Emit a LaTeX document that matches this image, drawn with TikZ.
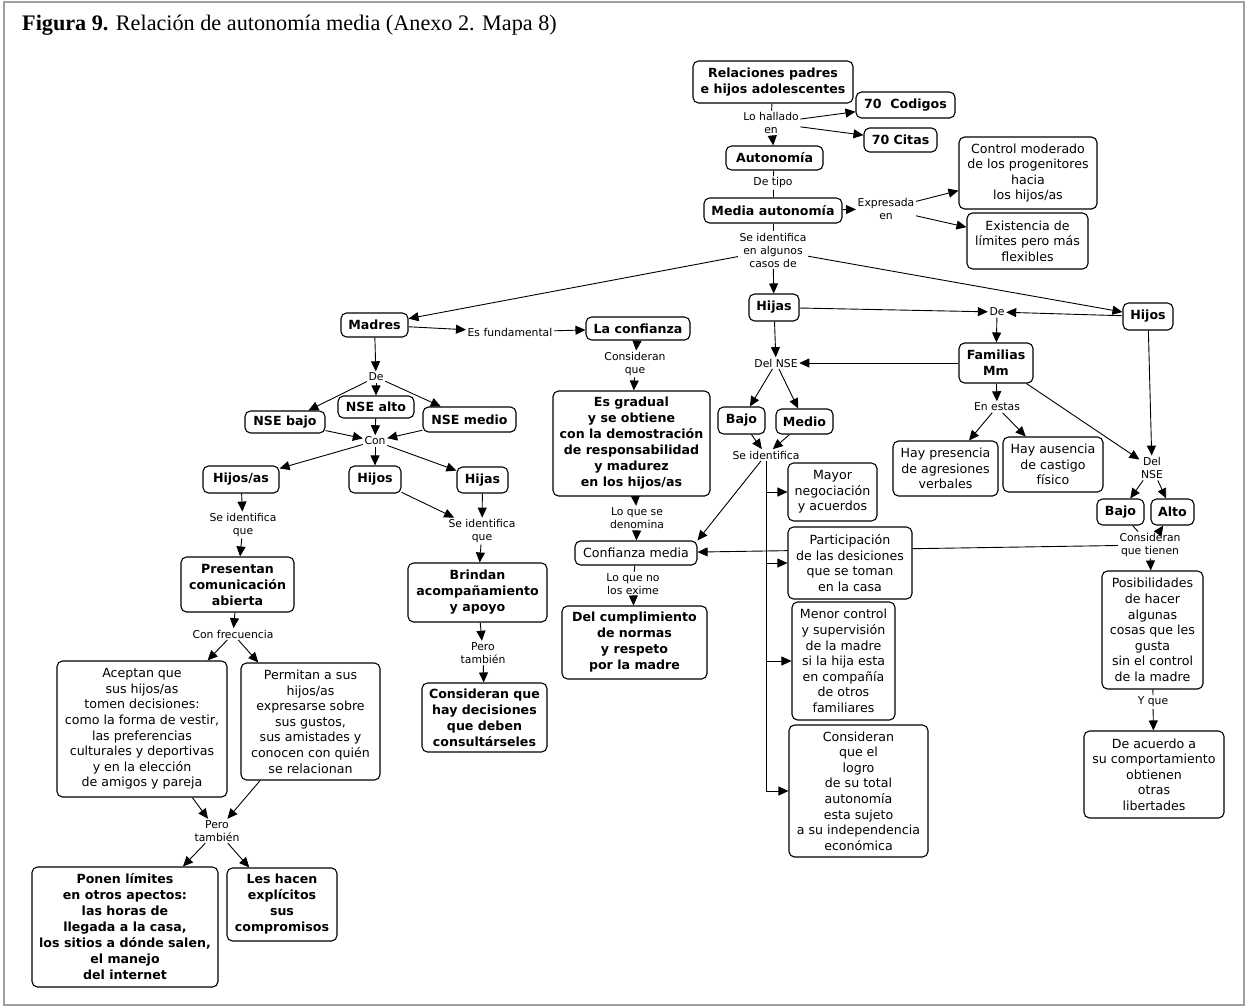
\documentclass[tikz,border=0pt]{standalone}
\usepackage{fontspec}
\setmainfont{DejaVu Sans}
\newfontfamily\titlefont{Liberation Serif}
\usetikzlibrary{arrows.meta}
\pgfdeclarelayer{bg}
\pgfsetlayers{bg,main}
\begin{document}
\begin{tikzpicture}[x=1pt,y=-1pt,
  box/.style={draw, rounded corners=5.5pt, line width=1.1pt, fill=white, align=center, inner sep=0pt, font=\fontsize{12.6}{15.6}\selectfont},
  bbox/.style={box, font=\bfseries\fontsize{12.6}{16}\selectfont},
  sz/.style n args={2}{minimum width=#1pt, minimum height=#2pt},
  lbl/.style={align=center, inner sep=1.5pt, font=\fontsize{10.8}{13}\selectfont},
  arr/.style={-{Triangle[length=10pt,width=9pt]}, line width=0.9pt},
  ln/.style={line width=0.9pt}]
\useasboundingbox (0,0) rectangle (1247,1007);
\draw[gray!75, line width=1.6pt] (4,2) rectangle (1244,1005);
\node[anchor=base west, inner sep=0pt, font=\titlefont\fontsize{22.2}{25}\selectfont] (title) at (22,30) {\textbf{Figura 9.} Relación de autonomía media (Anexo 2. Mapa 8)};

% --- top ---
\node[bbox, sz={160}{42}] (rel) at (773,82) {Relaciones padres\\e hijos adolescentes};
\node[bbox, sz={99}{26}] (cod) at (905.5,105) {70\ \ Codigos};
\node[bbox, sz={73}{24}] (cit) at (900.5,140) {70 Citas};
\node[bbox, sz={97}{24}] (auto) at (774.5,158) {Autonomía};
\node[bbox, sz={138}{25}] (media) at (773,210.5) {Media autonomía};
\node[box, sz={138}{72}] (ctrl) at (1028,173) {Control moderado\\de los progenitores\\hacia\\los hijos/as};
\node[box, sz={121}{56}] (exist) at (1027.5,241) {Existencia de\\límites pero más\\flexibles};
\node[lbl] (lohall) at (771,123) {Lo hallado\\en};
\node[lbl] (detipo) at (773,183) {De tipo};
\node[lbl] (expres) at (886,209) {Expresada\\en};
\node[lbl] (seid1) at (773,250) {Se identifica\\en algunos\\casos de};

% --- right: hijas / hijos ---
\node[bbox, sz={50}{27}] (hijasR) at (774,307.5) {Hijas};
\node[bbox, sz={50}{27}] (hijosR) at (1148,316.5) {Hijos};
\node[lbl] (deR) at (997,312) {De};
\node[bbox, sz={74}{40}] (fam) at (996,363) {Familias\\Mm};
\node[lbl] (delnse1) at (776,363) {Del NSE};
\node[bbox, sz={47}{27}] (bajoA) at (741.5,420.5) {Bajo};
\node[bbox, sz={57}{25}] (medio) at (804.5,421.5) {Medio};
\node[lbl] (seid2) at (766,455) {Se identifica};
\node[lbl] (enestas) at (997,407) {En estas};
\node[box, sz={105}{55}] (haypres) at (945.5,468.5) {Hay presencia\\de agresiones\\verbales};
\node[box, sz={100}{55}] (hayaus) at (1053,464.5) {Hay ausencia\\de castigo\\físico};
\node[lbl] (delnse2) at (1152,468) {Del\\NSE};
\node[bbox, sz={47}{26}] (bajoB) at (1120.5,512) {Bajo};
\node[bbox, sz={43}{26}] (alto) at (1172.5,512) {Alto};
\node[lbl] (consten) at (1150,545) {Consideran\\que tienen};
\node[box, sz={101}{118}] (posib) at (1152.5,630) {Posibilidades\\de hacer\\algunas\\cosas que les\\gusta\\sin el control\\de la madre};
\node[lbl] (yque) at (1153,702) {Y que};
\node[box, sz={140}{87}] (deacu) at (1154,774.5) {De acuerdo a\\su comportamiento\\obtienen\\otras\\libertades};
\node[box, sz={89}{58}] (mayor) at (832.5,492) {Mayor\\negociación\\y acuerdos};
\node[box, sz={124}{72}] (partic) at (850,563) {Participación\\de las desiciones\\que se toman\\en la casa};
\node[box, sz={103}{118}] (menor) at (843.5,661) {Menor control\\y supervisión\\de la madre\\si la hija esta\\en compañía\\de otros\\familiares};
\node[box, sz={139}{132}] (logro) at (858.5,791) {Consideran\\que el\\logro\\de su total\\autonomía\\esta sujeto\\a su independencia\\económica};

% --- middle ---
\node[bbox, sz={104}{23}] (confz) at (638,328.5) {La confianza};
\node[lbl] (esfund) at (510,332) {Es fundamental};
\node[lbl] (consque) at (635,364) {Consideran\\que};
\node[bbox, sz={157}{105}] (gradual) at (631.5,443.5) {Es gradual\\y se obtiene\\con la demostración\\de responsabilidad\\y madurez\\en los hijos/as};
\node[lbl] (lqsd) at (637,518) {Lo que se\\denomina};
\node[box, sz={122}{24}] (confmed) at (636,553) {Confianza media};
\node[lbl] (lqnle) at (633,584) {Lo que no\\los exime};
\node[bbox, sz={145}{73}] (cumpl) at (634.5,642.5) {Del cumplimiento\\de normas\\y respeto\\por la madre};

% --- left ---
\node[bbox, sz={67}{24}] (madres) at (374.5,325) {Madres};
\node[lbl] (deL) at (376,377) {De};
\node[bbox, sz={80}{22}] (nsebajo) at (285,422) {NSE bajo};
\node[bbox, sz={76}{22}] (nsealto) at (376,407) {NSE alto};
\node[bbox, sz={93}{25}] (nsemedio) at (469.5,419.5) {NSE medio};
\node[lbl] (con) at (375,441) {Con};
\node[bbox, sz={76}{27}] (hijosas) at (241,479.5) {Hijos/as};
\node[bbox, sz={52}{27}] (hijosL) at (375,479.5) {Hijos};
\node[bbox, sz={51}{26}] (hijasL) at (482.5,480) {Hijas};
\node[lbl] (seidq1) at (243,525) {Se identifica\\que};
\node[bbox, sz={113}{55}] (present) at (237.5,584.5) {Presentan\\comunicación\\abierta};
\node[lbl] (confrec) at (233,634) {Con frecuencia};
\node[box, sz={170}{136}] (acept) at (142,729) {Aceptan que\\sus hijos/as\\tomen decisiones:\\como la forma de vestir,\\las preferencias\\culturales y deportivas\\y en la elección\\de amigos y pareja};
\node[box, sz={139}{117}] (permit) at (310.5,721.5) {Permitan a sus\\hijos/as\\expresarse sobre\\sus gustos,\\sus amistades y\\conocen con quién\\se relacionan};
\node[lbl] (pero1) at (217,831) {Pero\\también};
\node[bbox, sz={186}{120}] (ponen) at (125,927) {Ponen límites\\en otros apectos:\\las horas de\\llegada a la casa,\\los sitios a dónde salen,\\el manejo\\del internet};
\node[bbox, sz={110}{73}] (leshacen) at (282,904.5) {Les hacen\\explícitos\\sus\\compromisos};
\node[lbl] (seidq2) at (482,531) {Se identifica\\que};
\node[bbox, sz={139}{59}] (brindan) at (477.5,592.5) {Brindan\\acompañamiento\\y apoyo};
\node[lbl] (pero2) at (483,653) {Pero\\también};
\node[bbox, sz={125}{69}] (consid) at (484.5,717.5) {Consideran que\\hay decisiones\\que deben\\consultárseles};

\begin{pgfonlayer}{bg}
% top
\draw[ln] (rel) -- (lohall);
\draw[arr] (lohall) -- (auto);
\draw[arr] (lohall) -- (cod);
\draw[arr] (lohall) -- (cit);
\draw[ln] (auto) -- (detipo);
\draw[ln] (detipo) -- (media);
\draw[arr] (media) -- (expres);
\draw[arr] (expres) -- (ctrl);
\draw[arr] (expres) -- (exist);
\draw[ln] (media) -- (seid1);
\draw[arr] (seid1) -- (hijasR);
\draw[arr] (seid1) -- (madres);
\draw[arr] (seid1) -- (hijosR);
% right
\draw[arr] (hijasR) -- (deR);
\draw[arr] (hijosR) -- (deR);
\draw[arr] (deR) -- (fam);
\draw[arr] (hijasR) -- (delnse1);
\draw[arr] (fam) -- (delnse1);
\draw[arr] (delnse1) -- (bajoA);
\draw[arr] (delnse1) -- (medio);
\draw[arr] (bajoA) -- (seid2);
\draw[arr] (medio) -- (seid2);
\draw[arr] ([xshift=-5pt]seid2.south) -- (confmed.north east);
\draw[arr] (seid2.south) |- (mayor.west);
\draw[arr] (seid2.south) |- (partic.west);
\draw[arr] (seid2.south) |- (menor.west);
\draw[arr] (seid2.south) |- (logro.west);
\draw[arr] (fam) -- (enestas);
\draw[arr] (enestas) -- (haypres);
\draw[arr] (enestas) -- (hayaus);
\draw[arr] (fam) -- (delnse2);
\draw[arr] (hijosR) -- (delnse2);
\draw[arr] (delnse2) -- (bajoB);
\draw[arr] (delnse2) -- (alto);
\draw[ln] (bajoB) -- (consten);
\draw[arr] (consten) -- (alto);
\draw[arr] (consten) -- (posib);
\draw[arr] (consten) -- (confmed);
\draw[ln] (posib) -- (yque);
\draw[arr] (yque) -- (deacu);
% middle
\draw[arr] (madres) -- (esfund);
\draw[arr] (esfund) -- (confz);
\draw[arr] (confz) -- (consque);
\draw[arr] (consque) -- (gradual);
\draw[arr] (gradual) -- (lqsd);
\draw[arr] (lqsd) -- (confmed);
\draw[ln] (confmed) -- (lqnle);
\draw[arr] (lqnle) -- (cumpl);
% left
\draw[arr] (madres) -- (deL);
\draw[arr] (deL) -- (nsebajo);
\draw[arr] (deL) -- (nsealto);
\draw[arr] (deL) -- (nsemedio);
\draw[arr] (nsebajo) -- (con);
\draw[arr] (nsealto) -- (con);
\draw[arr] (nsemedio) -- (con);
\draw[arr] (con) -- (hijosas);
\draw[arr] (con) -- (hijosL);
\draw[arr] (con) -- (hijasL);
\draw[arr] (hijosas) -- (seidq1);
\draw[arr] (seidq1) -- (present);
\draw[arr] (present) -- (confrec);
\draw[arr] (confrec) -- (acept);
\draw[arr] (confrec) -- (permit);
\draw[arr] (acept) -- (pero1);
\draw[arr] (permit) -- (pero1);
\draw[arr] (pero1) -- (ponen);
\draw[arr] (pero1) -- (leshacen);
\draw[arr] (hijosL) -- (seidq2);
\draw[arr] (hijasL) -- (seidq2);
\draw[arr] (seidq2) -- (brindan);
\draw[arr] (brindan) -- (pero2);
\draw[arr] (pero2) -- (consid);
\end{pgfonlayer}
\end{tikzpicture}
\end{document}
